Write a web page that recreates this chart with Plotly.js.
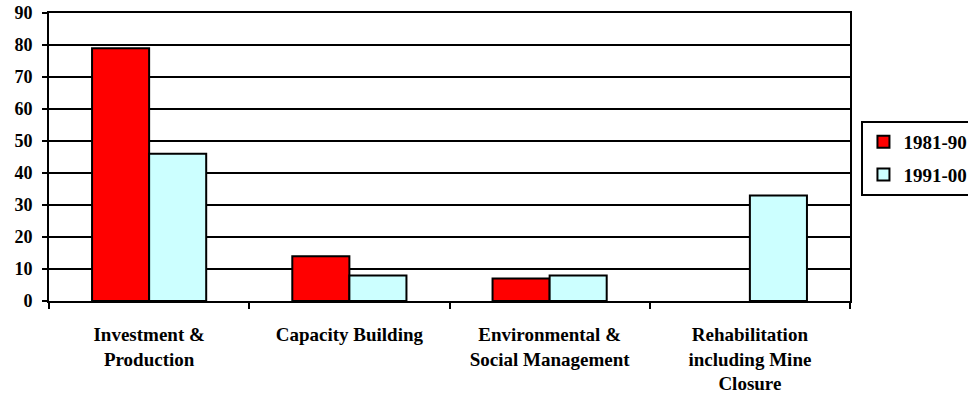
<!DOCTYPE html>
<html>
<head>
<meta charset="utf-8">
<script src="https://cdn.plot.ly/plotly-3.0.1.min.js"></script>
<style>html,body{margin:0;padding:0;background:#fff;}#chart{width:968px;height:404px;}</style>
</head>
<body>
<div id="chart"></div>
<script>
const categories = [
  "Investment &<br>Production",
  "Capacity Building",
  "Environmental &<br>Social Management",
  "Rehabilitation<br>including Mine<br>Closure"
];
const seriesNames = ["1981-90", "1991-00"];
const values1981 = [79, 14, 7, 0];
const values1991 = [46, 8, 8, 33];
const yTicks = [0, 10, 20, 30, 40, 50, 60, 70, 80, 90];

const fam = "Times New Roman, Liberation Serif, DejaVu Serif, serif";

const traces = [
  {type: "bar", name: seriesNames[0], x: categories, y: values1981,
   marker: {color: "#FF0000", line: {color: "#000", width: values1981.map(v => v === 0 ? 0 : 2)}}, legendgroup: "a"},
  {type: "bar", name: seriesNames[1], x: categories, y: values1991,
   marker: {color: "#CCFFFF", line: {color: "#000", width: values1991.map(v => v === 0 ? 0 : 2)}}, legendgroup: "b"}
];

const layout = {
  width: 968, height: 404,
  margin: {l: 49, r: 118, t: 13, b: 103, autoexpand: false},
  paper_bgcolor: "#fff", plot_bgcolor: "#fff",
  font: {family: fam, size: 19, color: "#000", weight: "bold"},
  barmode: "group", bargap: 0.43, bargroupgap: 0,
  showlegend: true,
  legend: {
    x: 1.0143, xanchor: "left", y: 0.625, yanchor: "top",
    bordercolor: "#000", borderwidth: 2, bgcolor: "#fff",
    font: {family: fam, size: 19, color: "#000", weight: "bold"},
    traceorder: "grouped", tracegroupgap: 5
  },
  xaxis: {
    type: "category", tickson: "boundaries", ticks: "outside", ticklen: 6, tickwidth: 2, tickcolor: "#000",
    showline: true, linecolor: "#000", linewidth: 2, mirror: true, showgrid: false,
    tickfont: {family: fam, size: 19, color: "#000", weight: "bold"},
    ticklabelstandoff: 15,
    automargin: false
  },
  yaxis: {
    range: [0, 90], tickvals: yTicks, ticktext: yTicks.map(String),
    ticks: "outside", ticklen: 5, tickwidth: 2, tickcolor: "#000",
    showline: true, linecolor: "#000", linewidth: 2, mirror: true,
    showgrid: true, gridcolor: "#000", gridwidth: 2, zeroline: false,
    tickfont: {family: fam, size: 18, color: "#000", weight: "bold"},
    ticklabelstandoff: 6,
    automargin: false
  }
};

Plotly.newPlot("chart", traces, layout, {displayModeBar: false, staticPlot: true});
</script>
</body>
</html>
